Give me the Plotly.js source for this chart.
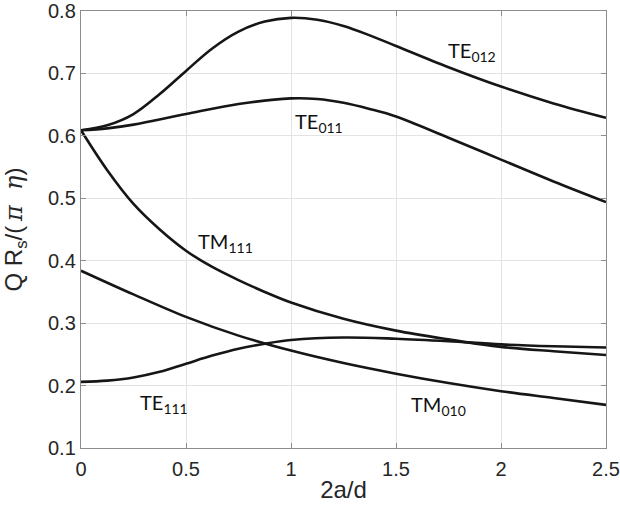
<!DOCTYPE html>
<html>
<head>
<meta charset="utf-8">
<script src="https://cdn.plot.ly/plotly-3.0.1.min.js"></script>
<style>html,body{margin:0;padding:0;background:#fff;}#chart{width:620px;height:518px;}</style>
</head>
<body>
<div id="chart"></div>
<script>
// x values (2a/d) and Q Rs/(pi eta) values
const xTE012 = [0, 0.125, 0.25, 0.375, 0.5, 0.625, 0.75, 0.875, 1.0, 1.125, 1.25, 1.375, 1.5, 1.75, 2.0, 2.25, 2.5];
const yTE012 = [0.609, 0.617, 0.635, 0.667, 0.704, 0.740, 0.767, 0.783, 0.789, 0.786, 0.776, 0.761, 0.744, 0.710, 0.679, 0.652, 0.629];

const xTE011 = [0, 0.125, 0.25, 0.5, 0.75, 1.0, 1.125, 1.25, 1.375, 1.5, 1.75, 2.0, 2.25, 2.5];
const yTE011 = [0.609, 0.612, 0.618, 0.635, 0.651, 0.660, 0.659, 0.653, 0.643, 0.631, 0.597, 0.562, 0.527, 0.494];

const xTM111 = [0, 0.125, 0.25, 0.375, 0.5, 0.625, 0.75, 0.875, 1.0, 1.25, 1.5, 1.75, 2.0, 2.25, 2.5];
const yTM111 = [0.609, 0.545, 0.491, 0.450, 0.416, 0.390, 0.369, 0.350, 0.333, 0.307, 0.288, 0.274, 0.262, 0.255, 0.249];

const xTE111 = [0, 0.125, 0.25, 0.375, 0.5, 0.625, 0.75, 0.875, 1.0, 1.25, 1.5, 1.75, 2.0, 2.25, 2.5];
const yTE111 = [0.206, 0.208, 0.213, 0.222, 0.235, 0.248, 0.259, 0.267, 0.273, 0.277, 0.275, 0.271, 0.266, 0.263, 0.261];

const xTM010 = [0, 0.25, 0.5, 0.75, 1.0, 1.25, 1.5, 1.75, 2.0, 2.25, 2.5];
const yTM010 = [0.384, 0.346, 0.310, 0.280, 0.256, 0.236, 0.219, 0.204, 0.191, 0.180, 0.169];

const labelText = ["TE<sub>012</sub>", "TE<sub>011</sub>", "TM<sub>111</sub>", "TE<sub>111</sub>", "TM<sub>010</sub>"];
const labelX = [1.738, 1.01, 0.547, 0.271, 1.56];
const labelY = [0.735, 0.622, 0.429, 0.171, 0.168];

const series = [[xTE012, yTE012], [xTE011, yTE011], [xTM111, yTM111], [xTE111, yTE111], [xTM010, yTM010]];
const traces = series.map(s => ({
  x: s[0], y: s[1], type: 'scatter', mode: 'lines',
  line: {color: '#161616', width: 2.6, shape: 'spline', smoothing: 1.0},
  hoverinfo: 'skip', showlegend: false
}));

const annotations = labelText.map((t, i) => ({
  x: labelX[i], y: labelY[i], xref: 'x', yref: 'y', text: t, showarrow: false,
  xanchor: 'left', yanchor: 'middle',
  font: {family: 'Lato, "Open Sans", sans-serif', size: 20, color: '#111'}
}));

const axisCommon = {
  showline: true, linecolor: '#8c8c8c', linewidth: 1.2, mirror: 'ticks',
  ticks: 'inside', ticklen: 5, tickcolor: '#8c8c8c', tickwidth: 1,
  showgrid: true, gridcolor: '#e3e3e3', gridwidth: 1, zeroline: false,
  tickfont: {family: '"Liberation Sans", Arial, sans-serif', size: 20, color: '#262626'}
};

const layout = {
  width: 620, height: 518,
  margin: {l: 81, r: 14, t: 11, b: 70},
  paper_bgcolor: '#fff', plot_bgcolor: '#fff',
  xaxis: Object.assign({}, axisCommon, {
    range: [0, 2.5], tickvals: [0, 0.5, 1, 1.5, 2, 2.5], ticktext: ['0', '0.5', '1', '1.5', '2', '2.5'],
    ticklabelstandoff: 3,
    title: {text: '2a/d', font: {family: '"Liberation Sans", Arial, sans-serif', size: 24, color: '#262626'}, standoff: 2}
  }),
  yaxis: Object.assign({}, axisCommon, {
    range: [0.1, 0.8], tickvals: [0.1, 0.2, 0.3, 0.4, 0.5, 0.6, 0.7, 0.8], ticktext: ['0.1', '0.2', '0.3', '0.4', '0.5', '0.6', '0.7', '0.8'],
    title: {text: 'Q R<sub>s</sub>/(<span style="font-family:\'DejaVu Serif\',serif"><i>\u2009π\u00a0\u00a0η</i></span>)', font: {family: '"Liberation Sans", Arial, sans-serif', size: 24, color: '#262626'}, standoff: 18}
  }),
  annotations: annotations
};

Plotly.newPlot('chart', traces, layout, {displayModeBar: false, staticPlot: true});
</script>
</body>
</html>
